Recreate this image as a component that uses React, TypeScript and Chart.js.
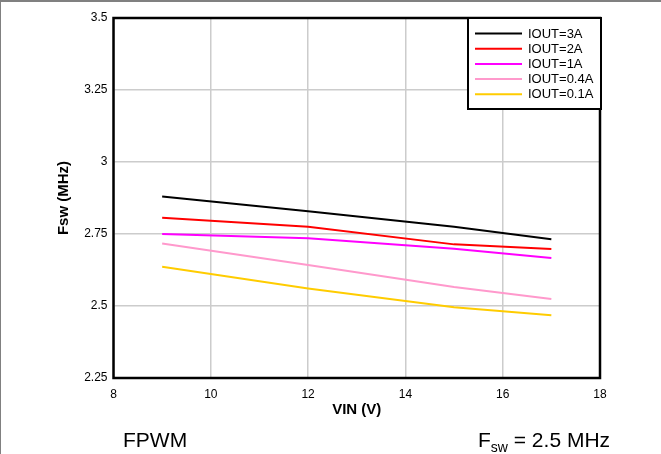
import React, { useEffect, useRef } from "react";
import { Chart, registerables } from "chart.js";

Chart.register(...registerables);

const vin = [9, 12, 15, 17];
const iout3A = [2.88, 2.829, 2.775, 2.732];
const iout2A = [2.806, 2.775, 2.714, 2.698];
const iout1A = [2.75, 2.735, 2.699, 2.667];
const iout04A = [2.717, 2.642, 2.566, 2.524];
const iout01A = [2.636, 2.561, 2.496, 2.468];

const seriesLabels = ["IOUT=3A", "IOUT=2A", "IOUT=1A", "IOUT=0.4A", "IOUT=0.1A"];
const seriesColors = ["#000000", "#ff0000", "#ff00ff", "#ff99cc", "#ffcc00"];
const seriesValues = [iout3A, iout2A, iout1A, iout04A, iout01A];

const xTicks = [8, 10, 12, 14, 16, 18];
const yTicks = [2.25, 2.5, 2.75, 3, 3.25, 3.5];

const FONT = "Arial, 'Liberation Sans', sans-serif";

const decorPlugin = {
  id: "decor",
  afterDatasetsDraw(chart: any) {
    const ctx = chart.ctx;
    const a = chart.chartArea;
    ctx.save();
    // plot frame
    ctx.strokeStyle = "#000";
    ctx.lineWidth = 2.5;
    ctx.strokeRect(a.left, a.top, a.right - a.left, a.bottom - a.top);
    // legend box
    const bx = a.right - 132;
    const by = a.top;
    const bw = 133;
    const bh = 91;
    ctx.fillStyle = "#fff";
    ctx.fillRect(bx, by, bw, bh);
    ctx.lineWidth = 2;
    ctx.strokeRect(bx, by, bw, bh);
    ctx.font = `13px ${FONT}`;
    ctx.textBaseline = "middle";
    ctx.textAlign = "left";
    seriesLabels.forEach((lab, i) => {
      const y = by + 15.5 + i * 15.2;
      ctx.strokeStyle = seriesColors[i];
      ctx.lineWidth = 2;
      ctx.beginPath();
      ctx.moveTo(bx + 7, y);
      ctx.lineTo(bx + 54, y);
      ctx.stroke();
      ctx.fillStyle = "#000";
      ctx.fillText(lab, bx + 60, y + 0.5);
    });
    ctx.restore();
  },
  afterDraw(chart: any) {
    const ctx = chart.ctx;
    ctx.save();
    ctx.fillStyle = "#808080";
    ctx.fillRect(0, 0, chart.width, 2);
    ctx.fillRect(0, 0, 1, chart.height);
    ctx.fillStyle = "#000";
    ctx.textBaseline = "alphabetic";
    ctx.textAlign = "left";
    ctx.font = `21px ${FONT}`;
    ctx.fillText("FPWM", 123, 447);
    let x = 478;
    ctx.fillText("F", x, 447);
    x += ctx.measureText("F").width;
    ctx.font = `14px ${FONT}`;
    ctx.fillText("sw", x, 452);
    x += ctx.measureText("sw").width;
    ctx.font = `21px ${FONT}`;
    ctx.fillText(" = 2.5 MHz", x, 447);
    ctx.restore();
  },
};

function ChartView() {
  const ref = useRef<HTMLCanvasElement>(null);
  useEffect(() => {
    if (!ref.current) return;
    const chart = new Chart(ref.current, {
      type: "scatter",
      data: {
        datasets: seriesLabels.map((lab, i) => ({
          label: lab,
          data: vin.map((v, j) => ({ x: v, y: seriesValues[i][j] })),
          showLine: true,
          borderColor: seriesColors[i],
          backgroundColor: seriesColors[i],
          borderWidth: 2,
          pointRadius: 0,
          tension: 0,
        })),
      },
      options: {
        responsive: false,
        animation: false,
        devicePixelRatio: 1,
        layout: { padding: { left: 0, top: 18, right: 61, bottom: 0 } },
        plugins: { legend: { display: false }, tooltip: { enabled: false } },
        scales: {
          x: {
            type: "linear",
            min: 8,
            max: 18,
            afterFit: (s: any) => {
              s.height = 76;
            },
            afterBuildTicks: (s: any) => {
              s.ticks = xTicks.map((v) => ({ value: v }));
            },
            ticks: {
              color: "#000",
              font: { family: FONT, size: 12 },
              padding: 9,
              maxRotation: 0,
              callback: (v: any) => String(v),
            },
            grid: { color: "#cccccc", lineWidth: 1.5, drawTicks: false },
            border: { display: false },
            title: {
              display: true,
              text: "VIN (V)",
              color: "#000",
              font: { family: FONT, size: 15, weight: "bold" },
              padding: { top: 0, bottom: 35 },
            },
          },
          y: {
            type: "linear",
            min: 2.25,
            max: 3.5,
            afterFit: (s: any) => {
              s.width = 113.5;
            },
            afterBuildTicks: (s: any) => {
              s.ticks = yTicks.map((v) => ({ value: v }));
            },
            ticks: {
              color: "#000",
              font: { family: FONT, size: 12 },
              padding: 6,
              callback: (v: any) => String(v),
            },
            grid: { color: "#cccccc", lineWidth: 1.5, drawTicks: false },
            border: { display: false },
            title: {
              display: true,
              text: "Fsw (MHz)",
              color: "#000",
              font: { family: FONT, size: 15, weight: "bold" },
              padding: { top: 55, bottom: 0 },
            },
          },
        },
      },
      plugins: [decorPlugin],
    });
    return () => chart.destroy();
  }, []);
  return <canvas ref={ref} width={661} height={454} style={{ display: "block" }} />;
}

export default function App() {
  return (
    <div style={{ position: "fixed", left: 0, top: 0, width: 661, height: 454, background: "#fff" }}>
      <ChartView />
    </div>
  );
}
